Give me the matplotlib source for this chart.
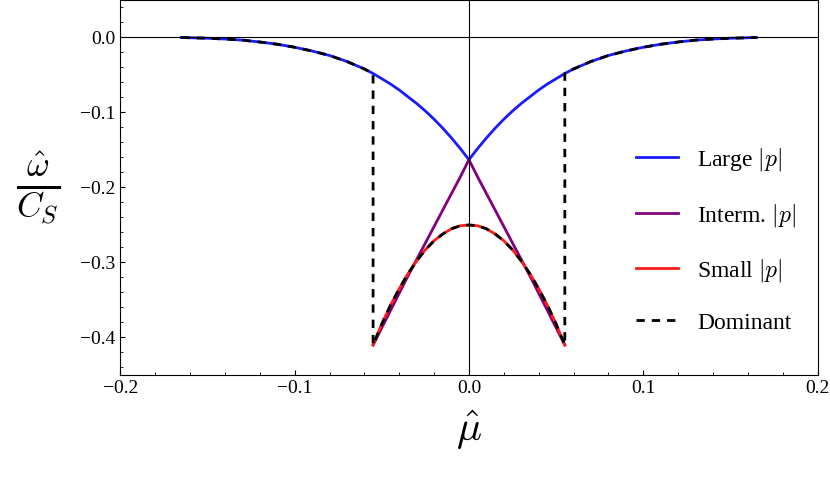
import matplotlib
matplotlib.use("Agg")
import matplotlib.pyplot as plt
import numpy as np

plt.rcParams['mathtext.fontset'] = 'cm'
plt.rcParams['font.family'] = ['Liberation Serif']

# Blue (large |p|), right branch; left branch mirrored
bx = [0.0, 0.005, 0.01, 0.015, 0.02, 0.025, 0.03, 0.035, 0.04, 0.045, 0.05, 0.055, 0.06, 0.07, 0.08, 0.09, 0.1, 0.11, 0.12, 0.13, 0.14, 0.15, 0.165]
by = [-0.163, -0.148, -0.134, -0.121, -0.109, -0.098, -0.088, -0.079, -0.070, -0.062, -0.055, -0.048, -0.042, -0.032, -0.024, -0.018, -0.013, -0.009, -0.006, -0.0035, -0.002, -0.001, 0.0]
# Purple (intermediate |p|)
px = [0.0, 0.005, 0.01, 0.015, 0.02, 0.025, 0.03, 0.035, 0.04, 0.045, 0.05, 0.055]
py = [-0.163, -0.186, -0.208, -0.230, -0.252, -0.274, -0.296, -0.318, -0.341, -0.364, -0.387, -0.41]
# Red (small |p|)
rx = [0.0, 0.005, 0.01, 0.015, 0.02, 0.025, 0.03, 0.035, 0.04, 0.045, 0.05, 0.055]
ry = [-0.25, -0.251, -0.255, -0.262, -0.271, -0.283, -0.298, -0.315, -0.335, -0.357, -0.382, -0.41]
mu_c = 0.055

def sym(x, y):
    x = np.array(x); y = np.array(y)
    return np.concatenate([-x[::-1], x[1:]]), np.concatenate([y[::-1], y[1:]])

fig = plt.figure(figsize=(8.3, 4.82), dpi=100)
ax = fig.add_axes([0.145, 0.222, 0.84, 0.778])
BX, BY = sym(bx, by); PX, PY = sym(px, py); RX, RY = sym(rx, ry)
ax.plot(BX, BY, color='#1a1aff', lw=2, label=r'Large $|p|$')
ax.plot(PX, PY, color='#800080', lw=2, label=r'Interm. $|p|$')
ax.plot(RX, RY, color='#ff1a1a', lw=2, label=r'Small $|p|$')
# Dominant
bxa = np.array(bx); bya = np.array(by)
m = bxa >= mu_c
rxa = np.array(rx); rya = np.array(ry)
dx = np.concatenate([-bxa[m][::-1], [-mu_c], -rxa[::-1][1:], rxa[1:], [mu_c], bxa[m]])
dy = np.concatenate([bya[m][::-1], [ry[-1]], rya[::-1][1:], rya[1:], [ry[-1]], bya[m]])
ax.plot(dx, dy, 'k--', lw=2, dashes=(3, 2.5), label='Dominant')

ax.axhline(0, color='k', lw=0.8)
ax.axvline(0, color='k', lw=0.8)
ax.set_xlim(-0.2, 0.2); ax.set_ylim(-0.45, 0.05)
ax.set_xticks([-0.2, -0.1, 0.0, 0.1, 0.2])
ax.set_xticklabels(['−0.2', '−0.1', '0.0', '0.1', '0.2'])
ax.set_yticks([0.0, -0.1, -0.2, -0.3, -0.4])
ax.set_yticklabels(['0.0', '−0.1', '−0.2', '−0.3', '−0.4'])
ax.tick_params(labelsize=14, direction='in')
ax.set_xticks(np.arange(-0.2, 0.201, 0.02), minor=True)
ax.set_yticks(np.arange(-0.44, 0.05, 0.02), minor=True)
ax.tick_params(which='minor', direction='in', length=2)
ax.set_xlabel(r'$\hat{\mu}$', fontsize=30, labelpad=8)
ax.set_ylabel(r'$\frac{\hat{\omega}}{C_S}$', fontsize=36, rotation=0, labelpad=30, va='center')
ax.legend(loc='center right', bbox_to_anchor=(1.0, 0.36), frameon=False, fontsize=17,
          handlelength=1.8, labelspacing=1.2)
fig.savefig('out.png', dpi=100)
